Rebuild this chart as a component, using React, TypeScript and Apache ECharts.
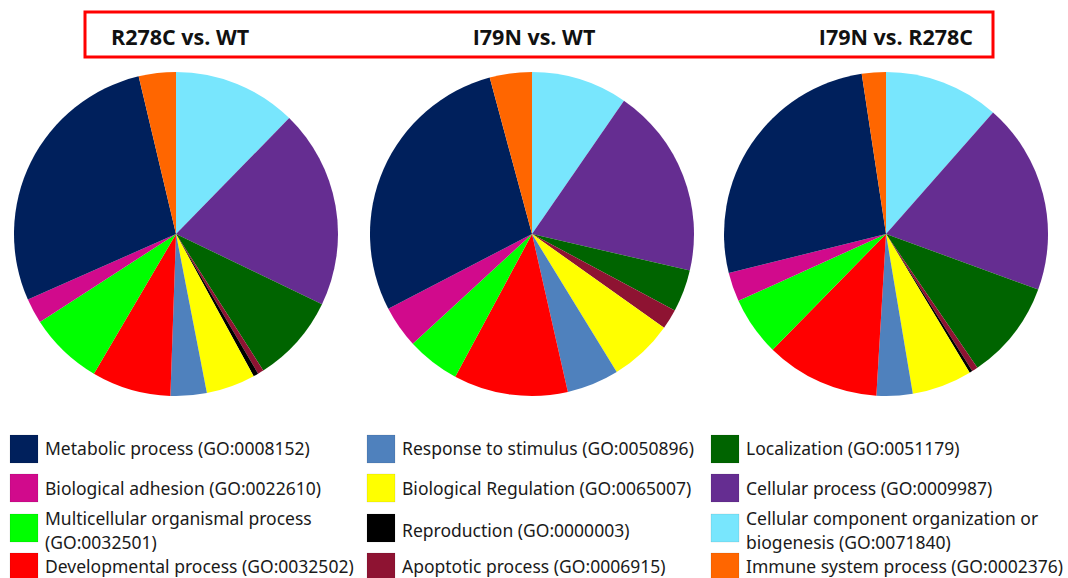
import React, { useEffect, useRef } from "react";
import * as echarts from "echarts";

// Slice order (clockwise from 12 o'clock)
const categories = [
  "Cellular component organization or biogenesis (GO:0071840)",
  "Cellular process (GO:0009987)",
  "Localization (GO:0051179)",
  "Apoptotic process (GO:0006915)",
  "Reproduction (GO:0000003)",
  "Biological Regulation (GO:0065007)",
  "Response to stimulus (GO:0050896)",
  "Developmental process (GO:0032502)",
  "Multicellular organismal process (GO:0032501)",
  "Biological adhesion (GO:0022610)",
  "Metabolic process (GO:0008152)",
  "Immune system process (GO:0002376)",
];

const colors = [
  "#78E6FD",
  "#652D91",
  "#006400",
  "#8E1332",
  "#000000",
  "#FFFF00",
  "#4F81BD",
  "#FF0000",
  "#00FF00",
  "#D10A8C",
  "#00205C",
  "#FF6600",
];

const titles = ["R278C vs. WT", "I79N vs. WT", "I79N vs. R278C"];

// Percent share of each category (same order as categories)
const r278cVsWt = [12.3, 19.8, 8.8, 0.6, 0.5, 4.9, 3.6, 7.9, 7.4, 2.5, 27.9, 3.7];
const i79nVsWt = [9.6, 19.0, 4.2, 2.0, 0, 6.4, 5.2, 11.4, 5.3, 4.2, 28.4, 4.2];
const i79nVsR278c = [11.5, 19.1, 9.9, 0.6, 0.3, 6.0, 3.6, 11.4, 5.9, 2.9, 26.5, 2.4];

// Legend layout: columns of category indexes, with display labels
const legendColumns = [
  [10, 9, 8, 7],
  [6, 5, 4, 3],
  [2, 1, 0, 11],
];
const legendLabels: Record<number, string> = {
  8: "Multicellular organismal process\n(GO:0032501)",
  0: "Cellular component organization or\nbiogenesis (GO:0071840)",
};

export default function App() {
  const ref = useRef<HTMLDivElement>(null);

  useEffect(() => {
    document.body.style.margin = "0";
    if (!ref.current) return;
    const chart = echarts.init(ref.current, undefined, { renderer: "svg" });

    const datasets = [r278cVsWt, i79nVsWt, i79nVsR278c];
    const centersX = [176, 532, 886];
    const titleX = [111, 534, 973];
    const titleAlign = ["left", "center", "right"];

    const series = datasets.map((vals, si) => ({
      type: "pie",
      center: [centersX[si], 234],
      radius: 162,
      startAngle: 90,
      clockwise: true,
      label: { show: false },
      labelLine: { show: false },
      silent: true,
      itemStyle: { borderWidth: 0 },
      data: vals.map((v, i) => ({
        name: categories[i],
        value: v,
        itemStyle: { color: colors[i] },
      })),
    }));

    const graphics: any[] = [
      {
        type: "rect",
        shape: { x: 85, y: 12, width: 908, height: 45 },
        style: { fill: "none", stroke: "#FF0000", lineWidth: 3 },
        z: 10,
      },
    ];
    titles.forEach((t, i) => {
      graphics.push({
        type: "text",
        x: titleX[i],
        y: 36,
        style: {
          text: t,
          fontFamily: "Open Sans",
          fontWeight: "bold",
          fontSize: 21.5,
          fill: "#111",
          align: titleAlign[i],
          verticalAlign: "middle",
        },
        z: 10,
      });
    });

    const colSquareX = [10, 367, 711];
    const colTextX = [45, 402, 746];
    const rowSquareY = [435, 474, 514, 553];
    const rowTextY = [448, 488, 530, 566];
    legendColumns.forEach((col, ci) => {
      col.forEach((idx, ri) => {
        graphics.push({
          type: "rect",
          shape: { x: colSquareX[ci], y: rowSquareY[ri], width: 28, height: 28 },
          style: { fill: colors[idx], stroke: "rgba(0,0,0,0.08)", lineWidth: 1 },
        });
        graphics.push({
          type: "text",
          x: colTextX[ci],
          y: rowTextY[ri],
          style: {
            text: legendLabels[idx] ?? categories[idx],
            fontFamily: "Noto Sans",
            fontSize: 17.5,
            lineHeight: 24,
            fill: "#1a1a1a",
            align: "left",
            verticalAlign: "middle",
          },
        });
      });
    });

    chart.setOption({
      animation: false,
      backgroundColor: "#ffffff",
      series,
      graphic: graphics,
    });

    return () => chart.dispose();
  }, []);

  return <div ref={ref} style={{ width: 1068, height: 578 }} />;
}
